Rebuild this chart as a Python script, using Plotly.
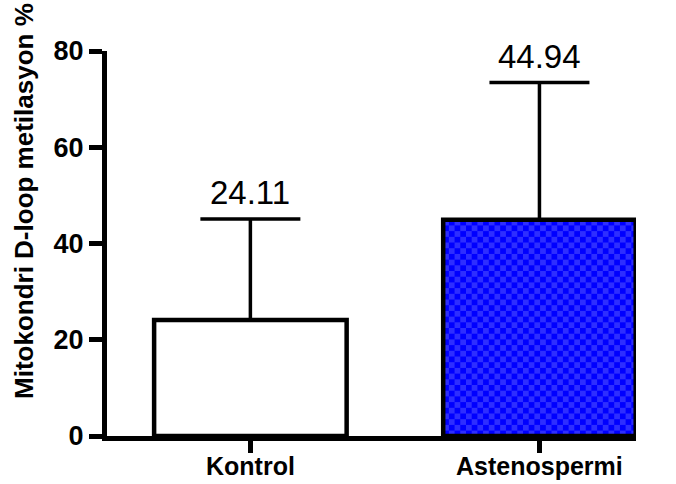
import base64
import plotly.graph_objects as go

# ---- data ----
categories = ["Kontrol", "Astenospermi"]
means = [24.11, 44.94]
sd_upper = [21.0, 28.5]
y_ticks = [0, 20, 40, 60, 80]
y_title = "Mitokondri D-loop metilasyon %"

# ---- layout constants ----
W, H = 676, 484
ML, MR, MT, MB = 107, 40, 51, 48
X_RANGE = [-0.496, 1.334]
Y_RANGE = [0, 80]
BAR_W = 0.666
FONT = "Liberation Sans, Arial, Helvetica, sans-serif"

plot_w = W - ML - MR
plot_h = H - MT - MB
px_per_x = plot_w / (X_RANGE[1] - X_RANGE[0])
px_per_y = plot_h / (Y_RANGE[1] - Y_RANGE[0])

x = list(range(len(categories)))
fills = ["white", "rgba(0,0,0,0)"]


def checker_uri(w, h, cell=5.7, c1="#0000ff", c2="#2e2eff"):
    """Two-tone checkerboard as an SVG data URI, sized in pixels."""
    s = 2 * cell
    svg = (
        f'<svg xmlns="http://www.w3.org/2000/svg" width="{w:.1f}" height="{h:.1f}" '
        f'viewBox="0 0 {w:.1f} {h:.1f}" preserveAspectRatio="none">'
        f'<defs><pattern id="c" width="{s}" height="{s}" patternUnits="userSpaceOnUse">'
        f'<rect width="{s}" height="{s}" fill="{c1}"/>'
        f'<rect width="{cell}" height="{cell}" fill="{c2}"/>'
        f'<rect x="{cell}" y="{cell}" width="{cell}" height="{cell}" fill="{c2}"/>'
        '</pattern></defs><rect width="100%" height="100%" fill="url(#c)"/></svg>'
    )
    return "data:image/svg+xml;base64," + base64.b64encode(svg.encode()).decode()


fig = go.Figure()
fig.add_trace(
    go.Bar(
        x=x,
        y=means,
        width=BAR_W,
        marker=dict(color=fills, line=dict(color="black", width=4.5)),
        error_y=dict(
            type="data",
            symmetric=False,
            array=sd_upper,
            arrayminus=[0] * len(means),
            color="black",
            thickness=3.5,
            width=50,
        ),
        hoverinfo="skip",
    )
)

# checkered fill under the second bar
i = 1
fig.add_layout_image(
    dict(
        source=checker_uri(BAR_W * px_per_x, means[i] * px_per_y),
        xref="x",
        yref="y",
        x=x[i] - BAR_W / 2,
        y=means[i],
        sizex=BAR_W,
        sizey=means[i],
        xanchor="left",
        yanchor="top",
        sizing="stretch",
        layer="below",
    )
)

# value labels above the error bars
for xi, m, s in zip(x, means, sd_upper):
    fig.add_annotation(
        x=xi,
        y=m + s,
        text=f"{m:.2f}",
        showarrow=False,
        yanchor="bottom",
        yshift=6,
        font=dict(family=FONT, size=33, color="black"),
    )

# category labels under the axis
for xi, name in zip(x, categories):
    fig.add_annotation(
        x=xi,
        xref="x",
        yref="paper",
        y=(H - MB - 450) / plot_h,
        text=name,
        showarrow=False,
        yanchor="top",
        font=dict(family=FONT, size=25, color="black", weight="bold"),
    )

# rotated axis title
fig.add_annotation(
    xref="paper",
    yref="paper",
    x=(24 - ML) / plot_w,
    y=(H - MB - 201) / plot_h,
    text=y_title,
    textangle=-90,
    showarrow=False,
    xanchor="center",
    yanchor="middle",
    font=dict(family=FONT, size=26, color="black", weight="bold"),
)

fig.update_layout(
    template="none",
    width=W,
    height=H,
    margin=dict(l=ML, r=MR, t=MT, b=MB, pad=0),
    paper_bgcolor="white",
    plot_bgcolor="white",
    showlegend=False,
    font=dict(family=FONT, color="black"),
    xaxis=dict(
        range=X_RANGE,
        tickvals=x,
        showticklabels=False,
        showline=True,
        linecolor="black",
        linewidth=5,
        ticks="outside",
        ticklen=12,
        tickwidth=5,
        tickcolor="black",
        showgrid=False,
        zeroline=False,
        automargin=False,
        fixedrange=True,
    ),
    yaxis=dict(
        range=Y_RANGE,
        tickvals=y_ticks,
        showline=True,
        linecolor="black",
        linewidth=5,
        ticks="outside",
        ticklen=13,
        tickwidth=5,
        tickcolor="black",
        tickfont=dict(family=FONT, size=27, color="black", weight="bold"),
        showgrid=False,
        zeroline=False,
        automargin=False,
        fixedrange=True,
    ),
)

fig.write_html("out.html", config={"displayModeBar": False})
